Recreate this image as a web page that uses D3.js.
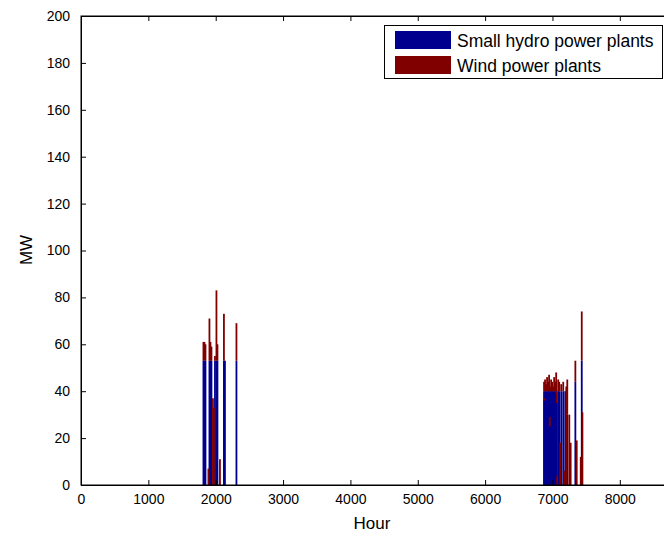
<!DOCTYPE html>
<html>
<head>
<meta charset="utf-8">
<script src="https://cdn.jsdelivr.net/npm/d3@7"></script>
<style>
  body { margin: 0; background: #fff; }
  svg { display: block; font-family: "Liberation Sans", Arial, sans-serif; }
</style>
</head>
<body>
<div id="chart"></div>
<script>
// Hour of year for each visible bar
const hours = [
    1818, 1833, 1848, 1892, 1907, 1922, 1937, 1959, 1974, 1989, 2011, 2026, 2063, 2122, 2137, 2308,
    6875, 6880, 6890, 6905, 6920, 6935, 6950, 6960, 6965, 6980, 6995, 7010, 7025, 7040, 7055,
    7065, 7070, 7085, 7100, 7115, 7130, 7160, 7175, 7190, 7205, 7220, 7250, 7270, 7340, 7360, 7420, 7435, 7445
];
// Small hydro power plants (MW)
const hydro = [
    53, 53, 53, 0, 53, 53, 53, 0, 0, 53, 53, 53, 0, 53, 53, 53,
    40, 36, 40, 40, 40, 40, 40, 25, 40, 40, 40, 40, 40, 40, 40,
    35, 0, 40, 40, 0, 40, 40, 0, 40, 0, 30, 0, 0, 44, 0, 0, 53, 0
];
// Wind power plants (MW)
const wind = [
    8, 8, 7, 7, 18, 8, 6, 37, 33, 2, 30, 7, 11, 20, 0, 16,
    4, 1, 5, 3, 6, 4, 7, 4, 2, 5, 4, 2, 6, 4, 8,
    5, 4, 5, 4, 18, 3, 4, 6, 0, 42, 15, 30, 18, 9, 19, 12, 21, 31
];
const seriesNames = ["Small hydro power plants", "Wind power plants"];
const seriesColors = ["#00008F", "#800000"];
const xTicks = d3.range(0, 9000, 1000);
const yTicks = d3.range(0, 201, 20);

const width = 664, height = 536;
const mLeft = 81, mTop = 16, mBottom = 485;

const svg = d3.select('#chart').append('svg')
    .attr('width', width)
    .attr('height', height);

const x = d3.scaleLinear().domain([0, 8760]).range([mLeft, 671]);
const y = d3.scaleLinear().domain([0, 200]).range([mBottom, mTop]);

const data = hours.map((h, i) => ({ hour: h, hydro: hydro[i], wind: wind[i] }));
const stacked = d3.stack().keys(['hydro', 'wind'])(data);

const barW = 1.8;
// hydro drawn first, wind on top (like separate patch objects)
stacked.forEach((layer, k) => {
    svg.append('g')
        .attr('fill', seriesColors[k])
        .selectAll('rect')
        .data(layer.filter(d => d[1] > d[0]))
        .enter().append('rect')
        .attr('x', d => x(d.data.hour) - barW / 2)
        .attr('width', barW)
        .attr('y', d => y(d[1]))
        .attr('height', d => y(d[0]) - y(d[1]));
});

// axes box
svg.append('rect')
    .attr('x', mLeft).attr('y', mTop)
    .attr('width', x(8760) - mLeft).attr('height', mBottom - mTop)
    .attr('fill', 'none').attr('stroke', '#000').attr('stroke-width', 1);

const tickLen = 5;
const fmt = d3.format('d');
const xAxisB = d3.axisBottom(x).tickValues(xTicks).tickFormat(fmt).tickSizeInner(-tickLen).tickSizeOuter(0).tickPadding(9);
svg.append('g').attr('transform', `translate(0,${mBottom})`).call(xAxisB);
const xAxisT = d3.axisTop(x).tickValues(xTicks).tickSizeInner(-tickLen).tickSizeOuter(0).tickFormat('');
svg.append('g').attr('transform', `translate(0,${mTop})`).call(xAxisT);
const yAxisL = d3.axisLeft(y).tickValues(yTicks).tickFormat(fmt).tickSizeInner(-tickLen).tickSizeOuter(0).tickPadding(11);
svg.append('g').attr('transform', `translate(${mLeft},0)`).call(yAxisL);

svg.selectAll('.domain').attr('stroke', '#000');
svg.selectAll('.tick line').attr('stroke', '#000');
svg.selectAll('.tick text')
    .attr('fill', '#000')
    .style('font-size', '14px')
    .style('font-family', '"Liberation Sans", Arial, sans-serif');

svg.append('text')
    .attr('x', 372).attr('y', 529)
    .attr('text-anchor', 'middle')
    .style('font-size', '17px')
    .text('Hour');

svg.append('text')
    .attr('transform', 'translate(32,250) rotate(-90)')
    .attr('text-anchor', 'middle')
    .style('font-size', '17px')
    .text('MW');

// legend
const lg = svg.append('g');
lg.append('rect')
    .attr('x', 384.5).attr('y', 25.5)
    .attr('width', 278).attr('height', 53)
    .attr('fill', '#fff').attr('stroke', '#000');
seriesNames.forEach((name, i) => {
    lg.append('rect')
        .attr('x', 395).attr('y', 31 + i * 25)
        .attr('width', 56).attr('height', 18)
        .attr('fill', seriesColors[i]);
    lg.append('text')
        .attr('x', 457).attr('y', 47 + i * 25)
        .style('font-size', '17.5px')
        .text(name);
});
</script>
</body>
</html>
